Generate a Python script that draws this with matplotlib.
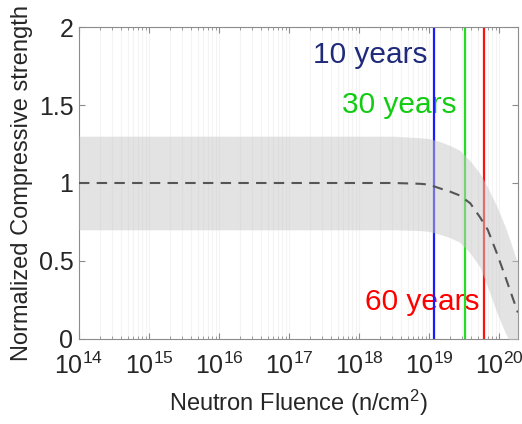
import numpy as np
import matplotlib
matplotlib.use("Agg")
from matplotlib import pyplot as plt
from matplotlib.ticker import LogLocator

plt.rcParams['font.family'] = ['Liberation Sans', 'DejaVu Sans']
plt.rcParams['mathtext.fontset'] = 'custom'
plt.rcParams['mathtext.rm'] = 'Liberation Sans'
plt.rcParams['mathtext.it'] = 'Liberation Sans:italic'

# log10 of fluence, mean strength ratio and the band around it
log_fluence = [14.0, 15.0, 16.0, 17.0, 18.0, 18.5, 18.87, 19.0, 19.16, 19.3,
               19.44, 19.59, 19.73, 19.84, 19.97, 20.09, 20.16, 20.27]
mean_strength = [1.0, 1.0, 1.0, 1.0, 1.0, 1.0, 0.995, 0.99, 0.965, 0.945,
                 0.92, 0.87, 0.78, 0.70, 0.55, 0.40, 0.31, 0.17]
upper_strength = [1.30, 1.30, 1.30, 1.30, 1.30, 1.30, 1.29, 1.285, 1.265, 1.24,
                  1.21, 1.14, 1.06, 0.97, 0.85, 0.72, 0.63, 0.48]
lower_strength = [0.70, 0.70, 0.70, 0.70, 0.70, 0.70, 0.695, 0.69, 0.67, 0.65,
                  0.62, 0.55, 0.46, 0.33, 0.17, 0.04, -0.02, -0.15]

# fluence reached after 10, 30, 60 years of operation
year_labels = ['10 years', '30 years', '60 years']
year_fluence = [1.18e19, 3.25e19, 6.2e19]
year_colors = ['#1a1aff', '#22dd22', '#ff1111']
text_colors = ['#1f2a7a', '#11cc11', '#ff0000']
text_pos = [(9.6e18, 1.82), (2.45e19, 1.50), (5.2e19, 0.24)]

fluence = 10 ** np.array(log_fluence)

fig = plt.figure(figsize=(5.22, 4.24), dpi=100)
ax = fig.add_axes([0.1513, 0.2005, 0.8410, 0.7358])

for f, c in zip(year_fluence, year_colors):
    ax.axvline(f, color=c, lw=1.6, zorder=2)

ax.fill_between(fluence, lower_strength, upper_strength, color='#c8c8c8',
                alpha=0.5, lw=0, zorder=3)
ax.plot(fluence, mean_strength, color='#555555', lw=1.5, ls=(0, (5, 3.5)), zorder=4)

for lab, (tx, ty), c in zip(year_labels, text_pos, text_colors):
    ax.text(tx, ty, lab, color=c, fontsize=21.5, ha='right', va='center', zorder=1)

ax.set_xscale('log')
ax.set_xlim(1e14, 1.87e20)
ax.set_ylim(0, 2)
ax.set_xticks([10.0 ** k for k in range(14, 21)])
ax.xaxis.set_minor_locator(LogLocator(base=10, subs=np.arange(2, 10), numticks=20))
ax.set_yticks([0, 0.5, 1, 1.5, 2])
ax.set_yticklabels(['0', '0.5', '1', '1.5', '2'])

ax.grid(True, which='both', axis='x', color='#f4f4f4', lw=0.8, zorder=0)
ax.set_axisbelow(True)

ax.tick_params(which='both', direction='in', top=True, right=True,
               colors='#8c8c8c', labelcolor='#262626', labelsize=18)
ax.tick_params(which='major', length=4)
ax.tick_params(which='minor', length=2)
ax.tick_params(axis='x', which='major', pad=10)
ax.tick_params(axis='y', which='major', pad=4)
for s in ax.spines.values():
    s.set_color('#8c8c8c')
    s.set_linewidth(0.8)

ax.set_xlabel('Neutron Fluence (n/cm$^2$)', fontsize=17, color='#262626', labelpad=6)
ax.set_ylabel('Normalized Compressive strength', fontsize=17, color='#262626', labelpad=4)

fig.savefig('out.png', dpi=100)
